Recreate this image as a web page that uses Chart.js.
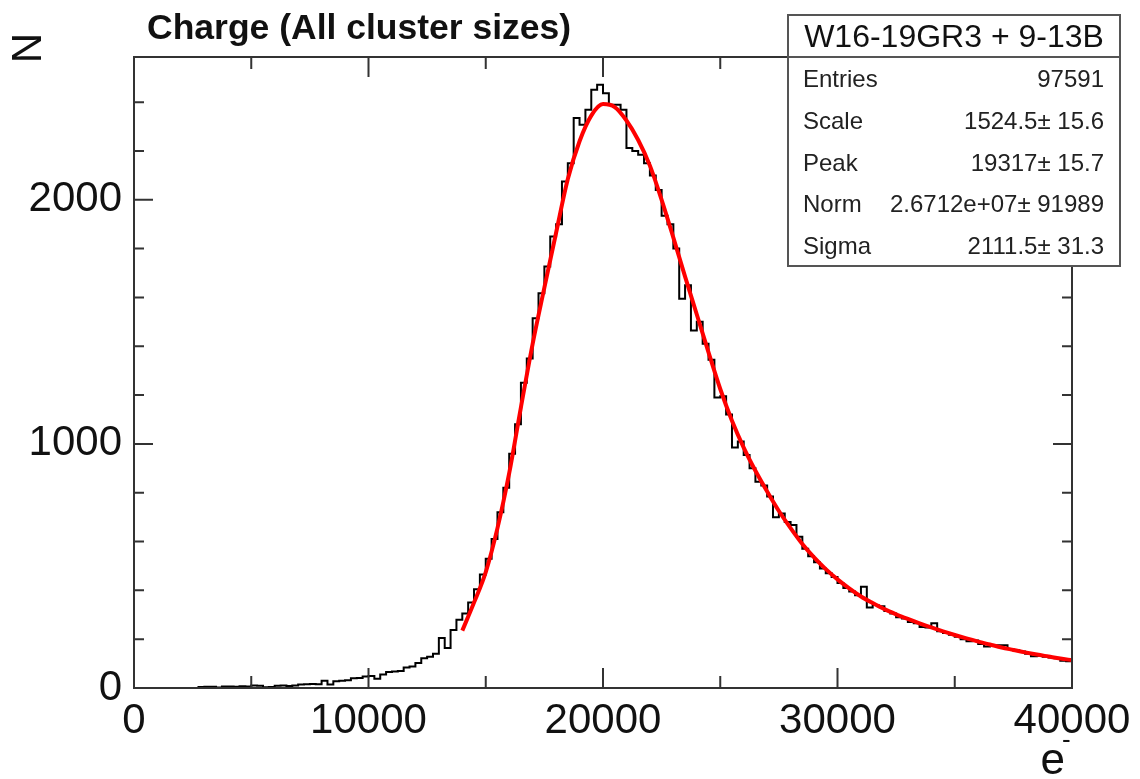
<!DOCTYPE html>
<html>
<head>
<meta charset="utf-8">
<title>Charge (All cluster sizes)</title>
<script src="https://cdn.jsdelivr.net/npm/chart.js@4.4.1/dist/chart.umd.min.js"></script>
<style>
  html, body { margin: 0; padding: 0; background: #fff; }
  #wrap { width: 1140px; height: 779px; }
</style>
</head>
<body>
<div id="wrap"><canvas id="chart" width="1140" height="779"></canvas></div>
<script>
// histogram: 160 bins of 250 e- from 0 to 40000
const binWidth = 250;
const counts = [
  0, 0, 0, 0, 0, 0, 0, 0, 0, 0,
  0, 4, 5, 5, 2, 6, 6, 5, 7, 6,
  10, 9, 3, 4, 9, 10, 8, 10, 14, 15,
  16, 15, 30, 14, 28, 30, 32, 40, 41, 47,
  49, 38, 55, 66, 68, 70, 84, 88, 102, 122,
  128, 140, 205, 164, 238, 280, 305, 350, 405, 465,
  530, 610, 720, 820, 960, 1080, 1250, 1350, 1515, 1617,
  1727, 1850, 1900, 2075, 2150, 2335, 2307, 2369, 2451, 2471,
  2437, 2389, 2389, 2369, 2212, 2200, 2185, 2150, 2100, 2040,
  1935, 1900, 1800, 1595, 1650, 1465, 1500, 1410, 1345, 1190,
  1195, 1120, 985, 1010, 955, 900, 845, 830, 785, 700,
  715, 680, 668, 620, 570, 540, 515, 490, 470, 455,
  430, 410, 395, 380, 415, 330, 340, 335, 315, 305,
  290, 285, 270, 265, 250, 248, 265, 232, 225, 218,
  210, 200, 192, 195, 180, 170, 172, 175, 175, 160,
  155, 150, 140, 130, 132, 128, 125, 122, 112, 110
];

// fitted curve
const fitX = [
  14000, 14500, 15000, 15500, 16000, 16500, 17000, 17500, 18000, 18500,
  19000, 19500, 20000, 20500, 21000, 21500, 22000, 22500, 23000, 23500,
  24000, 24500, 25000, 25500, 26000, 26500, 27000, 27500, 28000, 28500,
  29000, 29500, 30000, 30500, 31000, 31500, 32000, 32500, 33000, 33500,
  34000, 34500, 35000, 35500, 36000, 36500, 37000, 37500, 38000, 38500,
  39000, 39500, 40000
];
const fitY = [
  235, 350, 475, 655, 880, 1150, 1410, 1640, 1865, 2085,
  2240, 2345, 2392, 2380, 2325, 2245, 2140, 2000, 1845, 1685,
  1530, 1375, 1225, 1095, 985, 890, 805, 725, 655, 590,
  535, 487, 445, 408, 375, 348, 323, 302, 283, 265,
  248, 232, 217, 203, 190, 178, 166, 156, 146, 137,
  129, 121, 114
];

const xLabels = [0, 10000, 20000, 30000, 40000];
const yLabels = [0, 1000, 2000];
const statsHeader = "W16-19GR3 + 9-13B";
const statsNames = ["Entries", "Scale", "Peak", "Norm", "Sigma"];
const statsValues = ["97591", "1524.5\u00b1 15.6", "19317\u00b1 15.7", "2.6712e+07\u00b1 91989", "2111.5\u00b1 31.3"];

const FONT = '"Liberation Sans", Arial, Helvetica, sans-serif';

const histPoints = counts.map((c, i) => ({ x: i * binWidth, y: c }));
histPoints.push({ x: counts.length * binWidth, y: counts[counts.length - 1] });
const fitPoints = fitX.map((x, i) => ({ x, y: fitY[i] }));

// ROOT style frame, ticks, titles and stats box
const rootDecor = {
  id: "rootDecor",
  afterDraw(chart) {
    const { ctx, chartArea: a, scales } = chart;
    const sx = scales.x, sy = scales.y;
    ctx.save();

    ctx.strokeStyle = "#333";
    ctx.lineWidth = 2;
    ctx.strokeRect(a.left, a.top, a.right - a.left, a.bottom - a.top);

    ctx.beginPath();
    for (let v = 0; v <= 40000; v += 5000) {
      const px = sx.getPixelForValue(v);
      const len = v % 10000 === 0 ? 20 : 12;
      ctx.moveTo(px, a.bottom); ctx.lineTo(px, a.bottom - len);
      ctx.moveTo(px, a.top); ctx.lineTo(px, a.top + len);
    }
    for (let v = 0; v <= 2400; v += 200) {
      const py = sy.getPixelForValue(v);
      const len = v % 1000 === 0 ? 19 : 10;
      ctx.moveTo(a.left, py); ctx.lineTo(a.left + len, py);
      ctx.moveTo(a.right, py); ctx.lineTo(a.right - len, py);
    }
    ctx.stroke();

    // title
    ctx.fillStyle = "#111";
    ctx.font = "bold 35.5px " + FONT;
    ctx.textAlign = "left";
    ctx.textBaseline = "alphabetic";
    ctx.fillText("Charge (All cluster sizes)", 147, 39);

    // y title
    ctx.save();
    ctx.translate(29, 48);
    ctx.rotate(-Math.PI / 2);
    ctx.font = "42px " + FONT;
    ctx.textAlign = "center";
    ctx.textBaseline = "middle";
    ctx.fillText("N", 0, 0);
    ctx.restore();

    // x title e^-
    ctx.font = "44px " + FONT;
    ctx.textAlign = "right";
    ctx.fillText("e", 1065, 774);
    ctx.font = "26px " + FONT;
    ctx.textAlign = "left";
    ctx.fillText("-", 1062, 748);

    // stats box
    const bx = 788, by = 15, bw = 332, bh = 251;
    ctx.fillStyle = "#fff";
    ctx.fillRect(bx, by, bw, bh);
    ctx.strokeStyle = "#555";
    ctx.lineWidth = 2;
    ctx.strokeRect(bx, by, bw, bh);
    ctx.beginPath();
    ctx.moveTo(bx, a.top); ctx.lineTo(bx + bw, a.top);
    ctx.stroke();

    ctx.fillStyle = "#111";
    ctx.font = "32px " + FONT;
    ctx.textAlign = "center";
    ctx.textBaseline = "middle";
    ctx.fillText(statsHeader, bx + bw / 2, 38);

    ctx.font = "24px " + FONT;
    ctx.fillStyle = "#222";
    const rowY = [80, 122, 164, 205, 247];
    statsNames.forEach((n, i) => {
      ctx.textAlign = "left";
      ctx.fillText(n, 803, rowY[i]);
      ctx.textAlign = "right";
      ctx.fillText(statsValues[i], 1104, rowY[i]);
    });

    ctx.restore();
  }
};

new Chart(document.getElementById("chart"), {
  type: "line",
  data: {
    datasets: [
      {
        label: "fit",
        data: fitPoints,
        borderColor: "#ff0000",
        borderWidth: 4,
        pointRadius: 0,
        cubicInterpolationMode: "monotone",
        fill: false,
        order: 0
      },
      {
        label: "hist",
        data: histPoints,
        borderColor: "#000",
        borderWidth: 2,
        pointRadius: 0,
        stepped: true,
        fill: false,
        order: 1
      }
    ]
  },
  options: {
    responsive: false,
    devicePixelRatio: 1,
    animation: false,
    layout: { padding: { left: 0, right: 68, top: 57, bottom: 0 } },
    plugins: { legend: { display: false }, tooltip: { enabled: false } },
    scales: {
      x: {
        type: "linear",
        min: 0,
        max: 40000,
        grid: { display: false, drawTicks: false },
        border: { display: false },
        afterFit(s) { s.height = 91; },
        afterBuildTicks(s) { s.ticks = xLabels.map(v => ({ value: v })); },
        ticks: {
          padding: 8,
          maxRotation: 0,
          autoSkip: false,
          color: "#111",
          font: { family: FONT, size: 42 },
          callback: v => String(v)
        }
      },
      y: {
        type: "linear",
        min: 0,
        max: 2585,
        grid: { display: false, drawTicks: false },
        border: { display: false },
        afterFit(s) { s.width = 134; },
        afterBuildTicks(s) { s.ticks = yLabels.map(v => ({ value: v })); },
        ticks: {
          padding: 12,
          color: "#111",
          font: { family: FONT, size: 42 },
          callback: v => String(v)
        }
      }
    }
  },
  plugins: [rootDecor]
});
</script>
</body>
</html>
